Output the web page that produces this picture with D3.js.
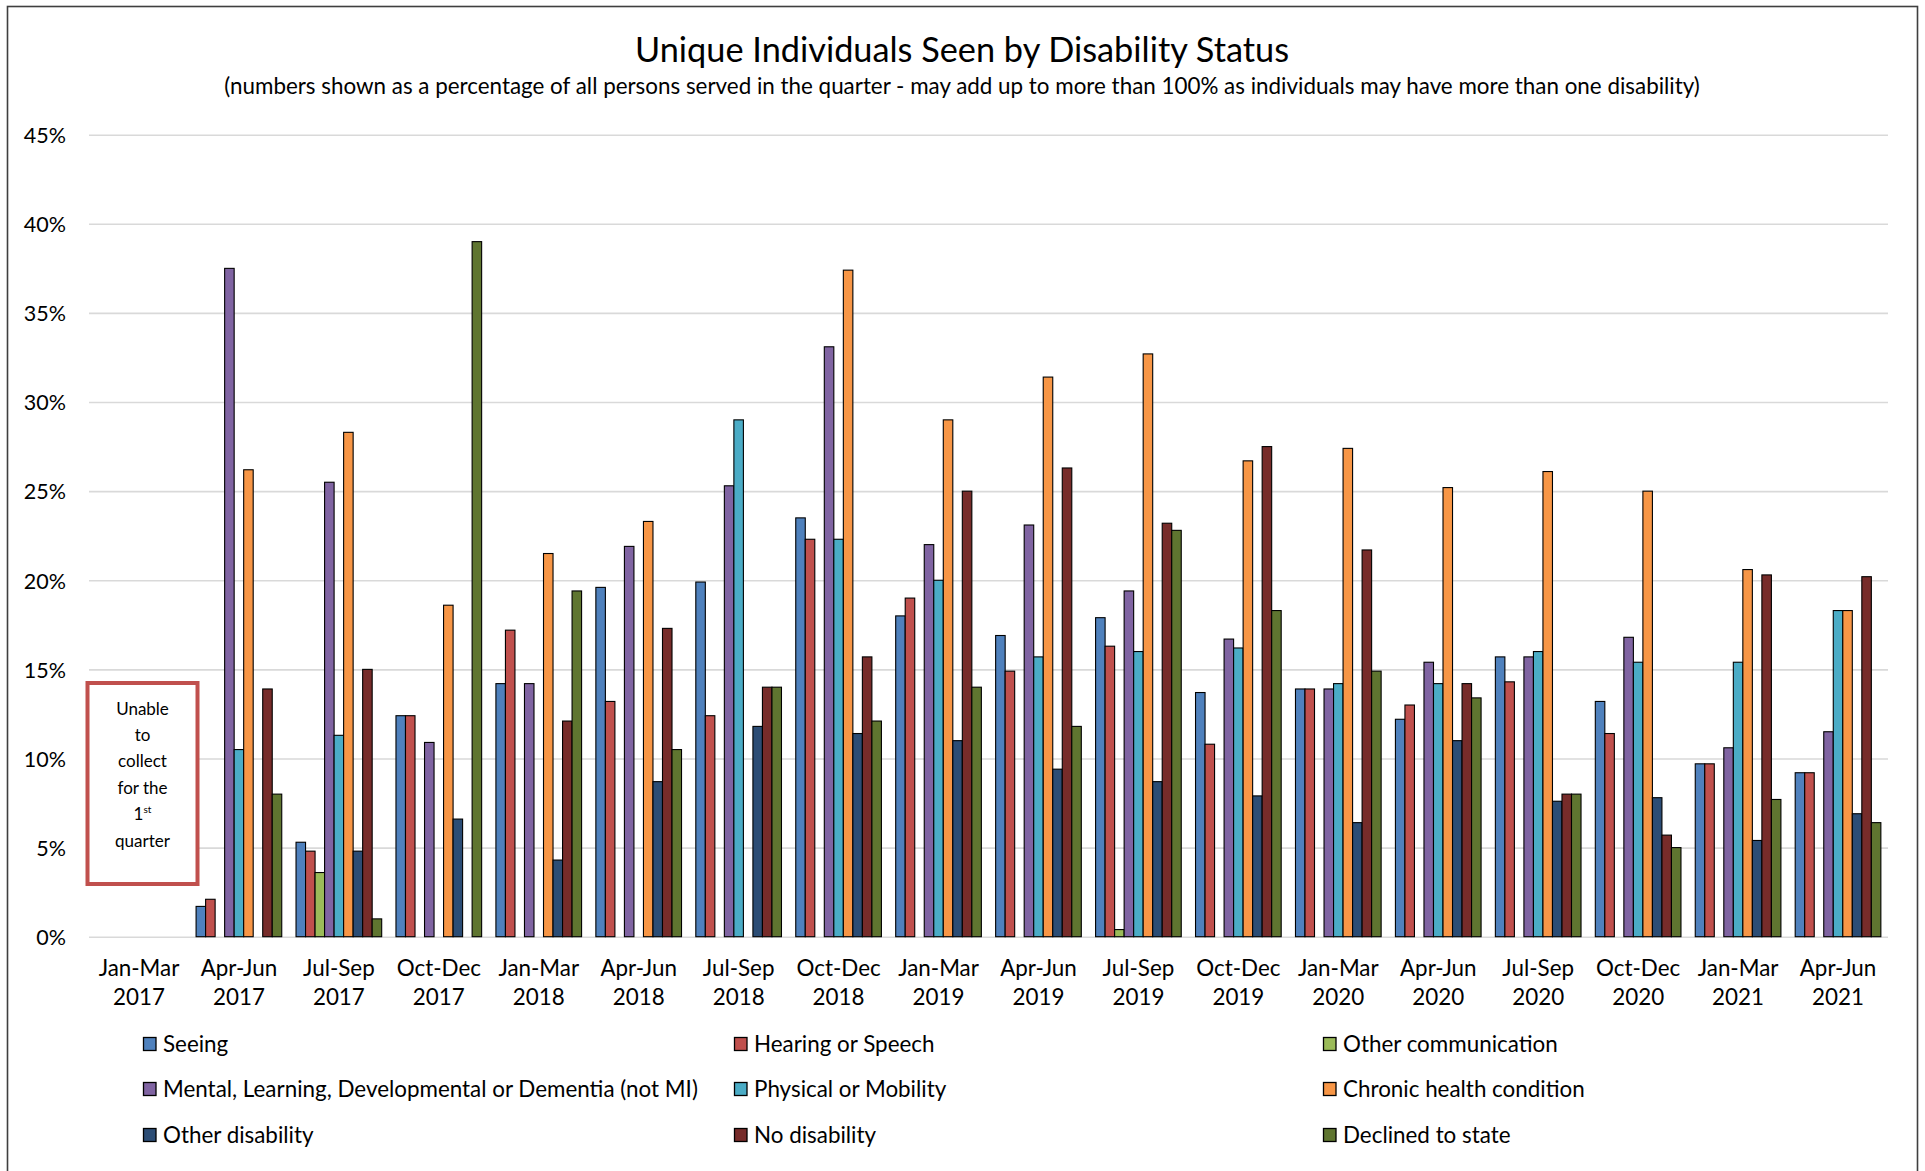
<!DOCTYPE html>
<html>
<head>
<meta charset="utf-8">
<title>Unique Individuals Seen by Disability Status</title>
<script src="https://cdn.jsdelivr.net/npm/d3@7"></script>
<style>
  html, body { margin: 0; padding: 0; background: #fff; }
  svg { display: block; font-family: Lato, "Liberation Sans", sans-serif; }
</style>
</head>
<body>
<svg id="chart" width="1925" height="1171"></svg>
<script>
// Quarter labels (two lines each)
const quarters = ["Jan-Mar","Apr-Jun","Jul-Sep","Oct-Dec","Jan-Mar","Apr-Jun","Jul-Sep","Oct-Dec","Jan-Mar","Apr-Jun","Jul-Sep","Oct-Dec","Jan-Mar","Apr-Jun","Jul-Sep","Oct-Dec","Jan-Mar","Apr-Jun"];
const years    = ["2017","2017","2017","2017","2018","2018","2018","2018","2019","2019","2019","2019","2020","2020","2020","2020","2021","2021"];

// Percent of all persons served in the quarter (null = no bar)
const seeing          = [null, 1.7, 5.3, 12.4, 14.2, 19.6, 19.9, 23.5, 18.0, 16.9, 17.9, 13.7, 13.9, 12.2, 15.7, 13.2, 9.7, 9.2];
const hearing         = [null, 2.1, 4.8, 12.4, 17.2, 13.2, 12.4, 22.3, 19.0, 14.9, 16.3, 10.8, 13.9, 13.0, 14.3, 11.4, 9.7, 9.2];
const otherComm       = [null, null, 3.6, null, null, null, null, null, null, null, 0.4, null, null, null, null, null, null, null];
const mental          = [null, 37.5, 25.5, 10.9, 14.2, 21.9, 25.3, 33.1, 22.0, 23.1, 19.4, 16.7, 13.9, 15.4, 15.7, 16.8, 10.6, 11.5];
const physical        = [null, 10.5, 11.3, null, null, null, 29.0, 22.3, 20.0, 15.7, 16.0, 16.2, 14.2, 14.2, 16.0, 15.4, 15.4, 18.3];
const chronic         = [null, 26.2, 28.3, 18.6, 21.5, 23.3, null, 37.4, 29.0, 31.4, 32.7, 26.7, 27.4, 25.2, 26.1, 25.0, 20.6, 18.3];
const otherDisability = [null, null, 4.8, 6.6, 4.3, 8.7, 11.8, 11.4, 11.0, 9.4, 8.7, 7.9, 6.4, 11.0, 7.6, 7.8, 5.4, 6.9];
const noDisability    = [null, 13.9, 15.0, null, 12.1, 17.3, 14.0, 15.7, 25.0, 26.3, 23.2, 27.5, 21.7, 14.2, 8.0, 5.7, 20.3, 20.2];
const declined        = [null, 8.0, 1.0, 39.0, 19.4, 10.5, 14.0, 12.1, 14.0, 11.8, 22.8, 18.3, 14.9, 13.4, 8.0, 5.0, 7.7, 6.4];

const seriesNames = ["Seeing","Hearing or Speech","Other communication","Mental, Learning, Developmental or Dementia (not MI)","Physical or Mobility","Chronic health condition","Other disability","No disability","Declined to state"];
const seriesValues = [seeing, hearing, otherComm, mental, physical, chronic, otherDisability, noDisability, declined];
const seriesColors = ["#4F81BD","#C0504D","#9BBB59","#8064A2","#4BACC6","#F79646","#2C4D75","#772C2A","#5F7530"];

const yTicks = [0,5,10,15,20,25,30,35,40,45];
const noteLines = ["Unable","to","collect","for the","1|st","quarter"];

const titleText = "Unique Individuals Seen by Disability Status";
const subtitleText = "(numbers shown as a percentage of all persons served in the quarter - may add up to more than 100% as individuals may have more than one disability)";

// ---- layout ----
const plot = { left: 89, right: 1888, top: 134.7, bottom: 936.7 };
const labelSize = 22.4;

const svg = d3.select("#chart");

// chart frame
svg.append("rect")
  .attr("x", 7.5).attr("y", 6.5)
  .attr("width", 1910).attr("height", 1200)
  .attr("fill", "#fff").attr("stroke", "#3f3f3f").attr("stroke-width", 1.6);

// title + subtitle
svg.append("text")
  .attr("x", 962).attr("y", 62)
  .attr("text-anchor", "middle")
  .attr("font-size", 34.3).attr("fill", "#000")
  .text(titleText);
svg.append("text")
  .attr("x", 962).attr("y", 94)
  .attr("text-anchor", "middle")
  .attr("font-size", 22.4).attr("fill", "#000")
  .text(subtitleText);

// scales
const idx = d3.range(quarters.length);
const x0 = d3.scaleBand().domain(idx).range([plot.left, plot.right]).paddingInner(0).paddingOuter(0);
const x1 = d3.scaleBand().domain(d3.range(seriesNames.length)).range([0, x0.bandwidth()]).paddingInner(0).paddingOuter(0.75);
const y = d3.scaleLinear().domain([0, 45]).range([plot.bottom, plot.top]);

// gridlines
const grid = svg.append("g")
  .attr("transform", `translate(${plot.left},0)`)
  .call(d3.axisLeft(y).tickValues(yTicks).tickSize(-(plot.right - plot.left)).tickFormat(""));
grid.select(".domain").remove();
grid.selectAll(".tick line").attr("stroke", "#d9d9d9").attr("stroke-width", 1.6);

// y axis labels
const yAxis = svg.append("g")
  .attr("transform", `translate(${plot.left},0)`)
  .call(d3.axisLeft(y).tickValues(yTicks).tickSize(0).tickPadding(23).tickFormat(d => d + "%"));
yAxis.select(".domain").remove();
yAxis.selectAll(".tick text")
  .attr("font-family", "Lato, sans-serif").attr("font-size", 21.5).attr("fill", "#000")
  .attr("dy", "0.36em");

// x axis labels (two lines)
const xAxis = svg.append("g")
  .attr("transform", `translate(0,${plot.bottom})`)
  .call(d3.axisBottom(x0).tickSize(0).tickFormat(""));
xAxis.select(".domain").remove();
xAxis.selectAll(".tick text").remove();
xAxis.selectAll(".tick").append("text")
  .attr("text-anchor", "middle")
  .attr("font-family", "Lato, sans-serif").attr("font-size", labelSize).attr("fill", "#000")
  .each(function(i) {
    const t = d3.select(this);
    t.append("tspan").attr("x", 0).attr("y", 39).text(quarters[i]);
    t.append("tspan").attr("x", 0).attr("y", 68).text(years[i]);
  });

// bars
const groups = svg.append("g").selectAll("g")
  .data(idx).join("g")
  .attr("transform", i => `translate(${x0(i)},0)`);
groups.selectAll("rect")
  .data(i => seriesValues.map((vals, s) => ({ s, v: vals[i] })).filter(d => d.v != null))
  .join("rect")
  .attr("x", d => x1(d.s))
  .attr("width", x1.bandwidth())
  .attr("y", d => y(d.v))
  .attr("height", d => y(0) - y(d.v))
  .attr("fill", d => seriesColors[d.s])
  .attr("stroke", "#000").attr("stroke-width", 1.1);

// note box over the first quarter
const note = svg.append("g");
note.append("rect")
  .attr("x", 87.5).attr("y", 683)
  .attr("width", 110).attr("height", 201)
  .attr("fill", "#fff").attr("stroke", "#C0504D").attr("stroke-width", 4);
const noteText = note.append("text")
  .attr("text-anchor", "middle")
  .attr("font-family", "Lato, sans-serif").attr("font-size", 17).attr("fill", "#000");
noteLines.forEach((line, k) => {
  const cy = 708.5 + k * 26.4 + 6;
  const parts = line.split("|");
  const row = noteText.append("tspan").attr("x", 142.5).attr("y", cy);
  row.text(parts[0]);
  if (parts.length > 1) {
    noteText.append("tspan").attr("dy", -7).attr("font-size", 10).text(parts[1]);
  }
});

// legend: three columns, filled row by row
const legendCols = [143, 734, 1323];
const legendRows = [1044, 1089, 1135];
const legend = svg.append("g").selectAll("g")
  .data(seriesNames).join("g")
  .attr("transform", (d, i) => `translate(${legendCols[i % 3]},${legendRows[Math.floor(i / 3)]})`);
legend.append("rect")
  .attr("x", 0.5).attr("y", -6.5)
  .attr("width", 12.5).attr("height", 13)
  .attr("fill", (d, i) => seriesColors[i])
  .attr("stroke", "#000").attr("stroke-width", 1.3);
legend.append("text")
  .attr("x", 20).attr("y", 7.9)
  .attr("font-size", labelSize).attr("fill", "#000")
  .text(d => d);
</script>
</body>
</html>
